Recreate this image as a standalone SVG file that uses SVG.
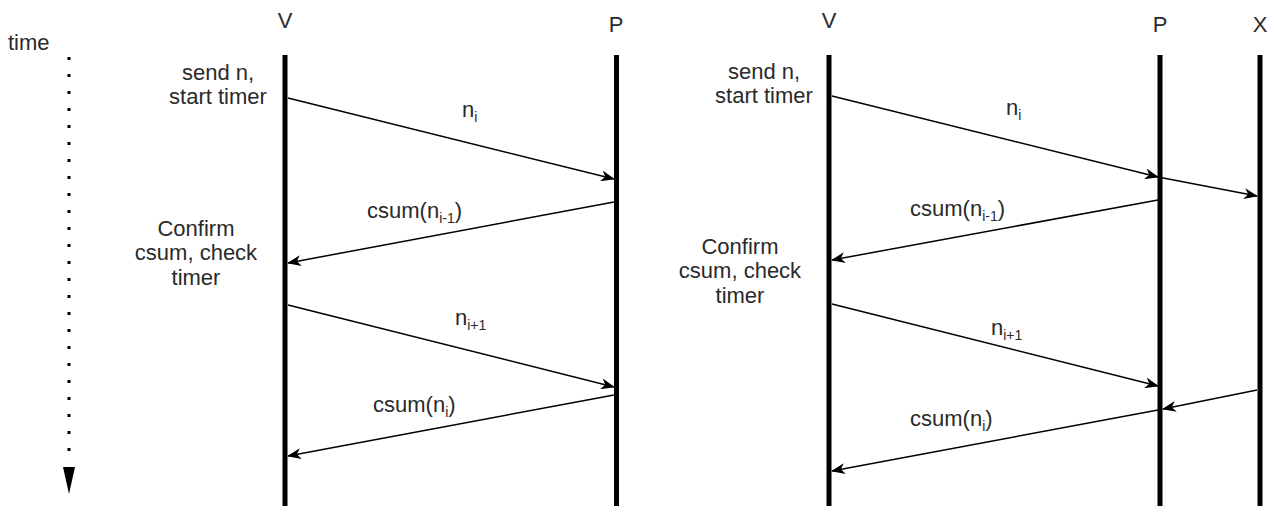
<svg xmlns="http://www.w3.org/2000/svg" width="1274" height="514" viewBox="0 0 1274 514">
  <defs>
    <marker id="arrow" viewBox="0 0 14 11" refX="13" refY="5.5" markerWidth="14" markerHeight="11" markerUnits="userSpaceOnUse" orient="auto">
      <path d="M0,0 L14,5.5 L0,11 L4,5.5 Z" fill="#000"/>
    </marker>
  </defs>
  <style>
    .life { stroke: #000; stroke-width: 5; fill: none; }
    .msg { stroke: #000; stroke-width: 1.5; fill: none; marker-end: url(#arrow); }
    text { font-family: "Liberation Sans", Arial, sans-serif; font-size: 22px; fill: #2a2a2a; }
    .mid { text-anchor: middle; }
    .sub { font-size: 14px; }
  </style>
  <rect width="1274" height="514" fill="#fff"/>

  <!-- time axis -->
  <g id="time-axis">
    <text x="8" y="50">time</text>
    <line x1="69" y1="57" x2="69" y2="452" stroke="#000" stroke-width="3" stroke-dasharray="3,14" stroke-linecap="butt"/>
    <path d="M63,467 L75,467 L69,494 Z" fill="#000"/>
  </g>

  <!-- left scenario: V and P -->
  <g id="left-V">
    <text class="mid" x="285" y="28">V</text>
    <line class="life" x1="285" y1="55" x2="285" y2="506"/>
  </g>
  <g id="left-P">
    <text class="mid" x="616" y="32">P</text>
    <line class="life" x1="616.5" y1="55" x2="616.5" y2="506"/>
  </g>
  <g id="left-notes">
    <text class="mid" x="218" y="80">send n,</text>
    <text class="mid" x="218" y="104">start timer</text>
    <text class="mid" x="196" y="236">Confirm</text>
    <text class="mid" x="196" y="260">csum, check</text>
    <text class="mid" x="196" y="285">timer</text>
  </g>

  <!-- right scenario: V, P and X -->
  <g id="right-V">
    <text class="mid" x="829" y="28">V</text>
    <line class="life" x1="829" y1="55" x2="829" y2="506"/>
  </g>
  <g id="right-P">
    <text class="mid" x="1160" y="32">P</text>
    <line class="life" x1="1160" y1="55" x2="1160" y2="506"/>
  </g>
  <g id="right-X">
    <text class="mid" x="1260" y="32">X</text>
    <line class="life" x1="1260" y1="55" x2="1260" y2="506"/>
  </g>
  <g id="right-notes">
    <text class="mid" x="764" y="79">send n,</text>
    <text class="mid" x="764" y="103">start timer</text>
    <text class="mid" x="740" y="254">Confirm</text>
    <text class="mid" x="740" y="278">csum, check</text>
    <text class="mid" x="740" y="303">timer</text>
  </g>

  <!-- messages -->
  <g id="connectors">
    <line class="msg" x1="288" y1="98" x2="614" y2="179"/>
    <line class="msg" x1="614" y1="202" x2="288" y2="263"/>
    <line class="msg" x1="288" y1="305" x2="614" y2="387"/>
    <line class="msg" x1="614" y1="395" x2="288" y2="456"/>

    <line class="msg" x1="832" y1="96" x2="1158" y2="177"/>
    <line class="msg" x1="1158" y1="177" x2="1257" y2="196"/>
    <line class="msg" x1="1158" y1="200" x2="832" y2="260"/>
    <line class="msg" x1="832" y1="304" x2="1158" y2="386"/>
    <line class="msg" x1="1257" y1="390" x2="1163" y2="409"/>
    <line class="msg" x1="1158" y1="410" x2="832" y2="471"/>
  </g>

  <!-- message labels -->
  <g id="labels">
    <text x="462" y="117">n<tspan class="sub" dy="5">i</tspan></text>
    <text x="367" y="218">csum(n<tspan class="sub" dy="5">i-1</tspan><tspan dy="-5">)</tspan></text>
    <text x="455" y="325">n<tspan class="sub" dy="5">i+1</tspan></text>
    <text x="373" y="412">csum(n<tspan class="sub" dy="5">i</tspan><tspan dy="-5">)</tspan></text>

    <text x="1006" y="115">n<tspan class="sub" dy="5">i</tspan></text>
    <text x="910" y="216">csum(n<tspan class="sub" dy="5">i-1</tspan><tspan dy="-5">)</tspan></text>
    <text x="991" y="335">n<tspan class="sub" dy="5">i+1</tspan></text>
    <text x="910" y="426">csum(n<tspan class="sub" dy="5">i</tspan><tspan dy="-5">)</tspan></text>
  </g>
</svg>
